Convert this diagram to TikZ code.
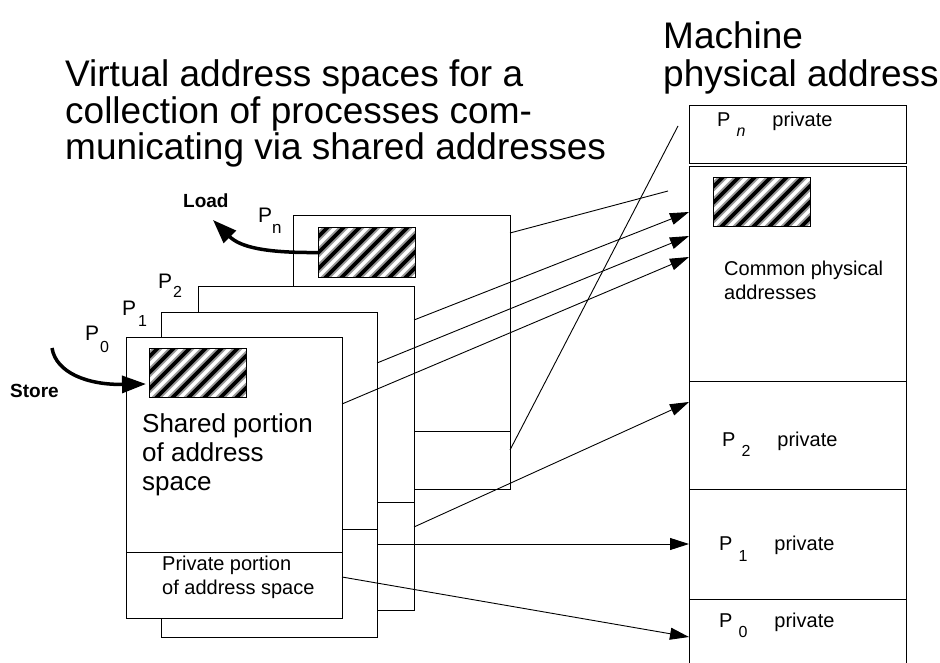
\documentclass[tikz,border=0pt]{standalone}
\usepackage{fontspec}
\setmainfont{Liberation Sans}
\usetikzlibrary{arrows.meta,calc}
\newcommand{\setfs}[1]{\fontsize{#1}{#1}\selectfont}
\tikzset{
  box/.style={draw, line width=1pt, fill=white, inner sep=0pt, outer sep=0pt, anchor=north west, minimum width=216pt},
  hatchbox/.style={inner sep=0pt, outer sep=0pt, minimum width=97pt, minimum height=49pt, anchor=north west},
  hatchline/.style={line width=3.6pt, black},
  hatchblur/.style={line width=7.5pt, black!40},
  conn/.style={line width=0.9pt},
  arr/.style={conn, -{Triangle[length=19pt,width=12pt]}},
  bigarr/.style={line width=3.5pt, -{Triangle[length=24pt,width=17pt]}},
  lbl/.style={inner sep=0pt, anchor=base west},
}
\newcommand{\hatchrect}[3]{%
  \node[hatchbox] (#1) at (#2,#3) {};
  \begin{scope}
    \clip (#1.south west) rectangle (#1.north east);
    \fill[white] (#1.south west) rectangle (#1.north east);
    \foreach \k in {0,...,10} {
      \draw[hatchblur] ($(#1.south west)+(\k*16-60,4)$) -- ++(66,-66);
      \draw[hatchline] ($(#1.south west)+(\k*16-60,4)$) -- ++(66,-66);
    }
  \end{scope}
  \draw[line width=1pt] (#1.south west) rectangle (#1.north east);
}
\begin{document}
\begin{tikzpicture}[x=1pt,y=-1pt]
\useasboundingbox (0,0) rectangle (940,663);
\fill[white] (0,0) rectangle (940,663);

% titles
\node[lbl, font=\setfs{37}] (t1) at (65,87) {Virtual address spaces for a};
\node[lbl, font=\setfs{37}] (t2) at (65,124) {collection of processes com-};
\node[lbl, font=\setfs{37}] (t3) at (65,160) {municating via shared addresses};
\node[lbl, font=\setfs{37}] (m1t) at (663,49) {Machine};
\node[lbl, font=\setfs{37}] (m2t) at (663,87) {physical address};

% virtual address spaces, back to front
\node[box, minimum width=217pt, minimum height=273pt] (pn) at (293,216) {};
\draw[conn] ($(pn.north west)+(0,215)$) -- ($(pn.north east)+(0,215)$);
\hatchrect{hn}{318}{228}

\node[box, minimum height=324pt] (p2) at (198,286) {};
\draw[conn] ($(p2.north west)+(0,216)$) -- ($(p2.north east)+(0,216)$);

\node[box, minimum height=325pt] (p1) at (161,312) {};
\draw[conn] ($(p1.north west)+(0,217)$) -- ($(p1.north east)+(0,217)$);

\node[box, minimum height=281pt] (p0) at (126,337) {};
\draw[conn] ($(p0.north west)+(0,215)$) -- ($(p0.north east)+(0,215)$);
\hatchrect{h0}{149}{348}

\node[lbl, font=\setfs{26}] (sh1) at (142,432) {Shared portion};
\node[lbl, font=\setfs{26}] (sh2) at (142,461) {of address};
\node[lbl, font=\setfs{26}] (sh3) at (142,490) {space};
\node[lbl, font=\setfs{20}] (pr1) at (162,570) {Private portion};
\node[lbl, font=\setfs{20}] (pr2) at (162,594) {of address space};

% process labels
\node[lbl, font=\setfs{21}] (lp0) at (85,340) {P\kern1pt\raisebox{-12pt}{\setfs{16}0}};
\node[lbl, font=\setfs{21}] (lp1) at (122,315) {P\kern2pt\raisebox{-11pt}{\setfs{16}1}};
\node[lbl, font=\setfs{21}] (lp2) at (158,288) {P\kern1pt\raisebox{-9pt}{\setfs{16}2}};
\node[lbl, font=\setfs{21}] (lpn) at (258,223) {P\raisebox{-10pt}{\setfs{17}n}};

% machine physical address column
\node[box, minimum width=217pt, minimum height=58pt] (mpn) at (689,106) {};
\node[box, minimum width=217pt, minimum height=214pt] (mcom) at (689,167) {};
\hatchrect{hc}{713}{178}
\node[box, minimum width=217pt, minimum height=108pt] (mp2) at (689,381) {};
\node[box, minimum width=217pt, minimum height=110pt] (mp1) at (689,489) {};
\node[inner sep=0pt, outer sep=0pt, anchor=north west, minimum width=217pt, minimum height=64pt] (mp0) at (689,599) {};
\draw[line width=1pt] (mp0.south west) -- (mp0.north west) -- (mp0.north east) -- (mp0.south east);

\node[lbl, font=\setfs{20}] (c1) at (724,276) {Common physical};
\node[lbl, font=\setfs{20}] (c2) at (724,299) {addresses};

\node[lbl, font=\setfs{20}] (lmpn) at (717,127) {P\kern6pt\raisebox{-10pt}{\setfs{16}\itshape n}\kern27pt private};
\node[lbl, font=\setfs{20}] (lmp2) at (722,446) {P\kern6pt\raisebox{-10pt}{\setfs{16}2}\kern27pt private};
\node[lbl, font=\setfs{20}] (lmp1) at (719,550) {P\kern6pt\raisebox{-11pt}{\setfs{16}1}\kern27pt private};
\node[lbl, font=\setfs{20}] (lmp0) at (719,627) {P\kern6pt\raisebox{-10pt}{\setfs{16}0}\kern27pt private};

% connectors
\coordinate (e1) at (668,191);
\coordinate (e2) at (678,126);
\draw[conn] ($(pn.north east)+(0,17)$) -- (e1);
\draw[arr] ($(p2.north east)+(0,34)$) -- ($(mcom.north west)+(0,45)$);
\draw[arr] ($(p1.north east)+(0,51)$) -- ($(mcom.north west)+(0,69)$);
\draw[arr] ($(p0.north east)+(0,67)$) -- ($(mcom.north west)+(0,90)$);
\draw[conn] ($(pn.north east)+(0,234)$) -- (e2);
\draw[arr] ($(p2.north east)+(0,241)$) -- ($(mp2.north west)+(0,21)$);
\draw[arr] ($(p1.north east)+(0,232)$) -- (mp1.west);
\draw[arr] ($(p0.north east)+(0,240)$) -- ($(mp0.north west)+(0,38)$);

% load / store
\coordinate (loadtip) at (213,220);
\coordinate (storestart) at (52,348);
\draw[bigarr] (hn.west) .. controls (265,253) and (240,247) .. (loadtip);
\draw[bigarr] (storestart) .. controls (56,373) and (88,385) .. ($(h0.south west)+(-3,-13)$);
\node[lbl, font=\bfseries\setfs{19}] (load) at (183,208) {Load};
\node[lbl, font=\bfseries\setfs{19}] (store) at (10,397) {Store};
\end{tikzpicture}
\end{document}
